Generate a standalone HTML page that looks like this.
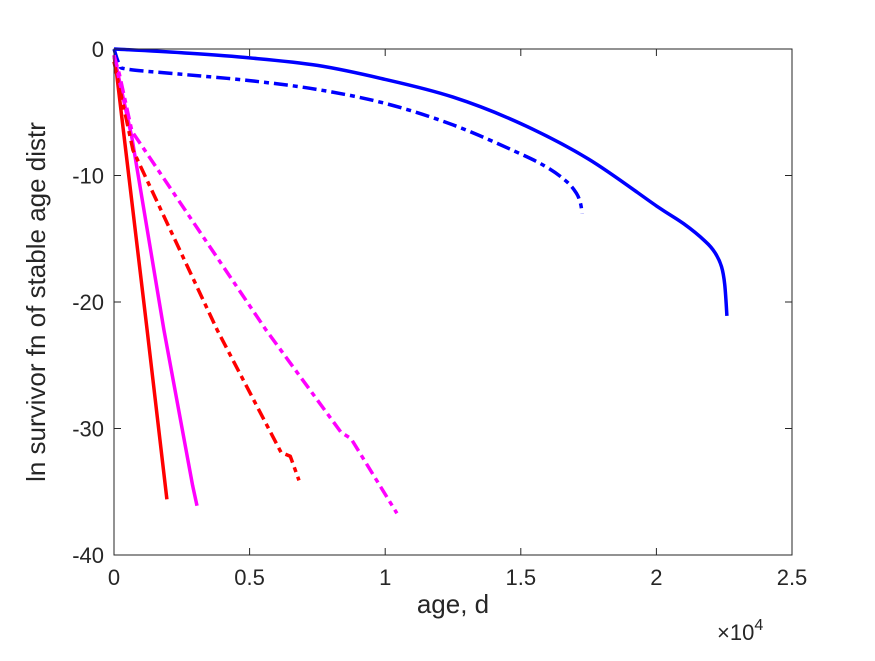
<!DOCTYPE html>
<html><head><meta charset="utf-8"><style>
body{margin:0;background:#fff}
svg text{font-family:"Liberation Sans",sans-serif;fill:#262626}
</style></head><body>
<svg id="chart" width="875" height="656" xmlns="http://www.w3.org/2000/svg">
<rect width="875" height="656" fill="#fff"/>
<g id="plot"></g>
<g id="axes"></g>
<text x="453" y="613" font-size="26" text-anchor="middle">age, d</text>
<text transform="translate(45,302) rotate(-90)" font-size="26" text-anchor="middle">ln survivor fn of stable age distr</text>
<text x="717" y="640" font-size="22">×10<tspan font-size="16" dy="-10">4</tspan></text>
</svg>
<script>
const xTicks=[0,0.5,1,1.5,2,2.5];
const xTickLabels=["0","0.5","1","1.5","2","2.5"];
const yTicks=[0,-10,-20,-30,-40];
const yTickLabels=["0","-10","-20","-30","-40"];
const blueSolidX=[0,0.25,0.5,0.75,1.0,1.25,1.5,1.75,2.0,2.1,2.18,2.216,2.24,2.252,2.26];
const blueSolidY=[0,-0.3,-0.7,-1.3,-2.4,-3.8,-5.9,-8.7,-12.4,-13.8,-15.2,-16.1,-17.2,-18.6,-21.1];
const blueDashX=[0,0.02,0.05,0.25,0.5,0.75,1.0,1.25,1.5,1.6,1.67,1.705,1.72,1.726];
const blueDashY=[0,-1.2,-1.6,-2.0,-2.5,-3.2,-4.3,-6.0,-8.3,-9.4,-10.5,-11.4,-12.2,-13.0];
const redSolidX=[0,0.01,0.122,0.195];
const redSolidY=[-0.5,-2,-22.2,-35.6];
const magSolidX=[0,0.02,0.066,0.184,0.29,0.306];
const magSolidY=[-0.5,-2.5,-7,-22.2,-34.5,-36.1];
const redDashX=[0,0.02,0.07,0.38,0.616,0.65,0.682];
const redDashY=[-1,-3,-8,-22.2,-31.9,-32.2,-34.1];
const magDashX=[0,0.02,0.066,0.56,0.837,0.874,1.043];
const magDashY=[-0.5,-2,-6.5,-22.2,-30.3,-30.8,-36.7];
const L=114,R=792,T=49,B=555;
const sx=v=>L+(v-0)/(2.5-0)*(R-L);
const sy=v=>T+(0-v)/(0-(-40))*(B-T);
const NS="http://www.w3.org/2000/svg";
const plot=document.getElementById('plot'),axes=document.getElementById('axes');
function mk(t,a,p){const e=document.createElementNS(NS,t);for(const k in a)e.setAttribute(k,a[k]);p.appendChild(e);return e;}
function smoothPath(P){
 let d="M"+P[0][0].toFixed(1)+","+P[0][1].toFixed(1);
 for(let i=0;i<P.length-1;i++){
  const p0=P[i-1]||P[i],p1=P[i],p2=P[i+1],p3=P[i+2]||P[i+1];
  const t=1/6;
  const c1=[p1[0]+(p2[0]-p0[0])*t,p1[1]+(p2[1]-p0[1])*t];
  const c2=[p2[0]-(p3[0]-p1[0])*t,p2[1]-(p3[1]-p1[1])*t];
  d+=" C"+c1.map(v=>v.toFixed(1))+" "+c2.map(v=>v.toFixed(1))+" "+p2.map(v=>v.toFixed(1));
 }
 return d;
}
const series=[
 ["blue-solid-line",blueSolidX,blueSolidY,"#0000ff","",true],
 ["blue-dashdot-line",blueDashX,blueDashY,"#0000ff","14 5 5 5",true],
 ["red-solid-line",redSolidX,redSolidY,"#ff0000","",false],
 ["magenta-solid-line",magSolidX,magSolidY,"#ff00ff","",false],
 ["red-dashed-line",redDashX,redDashY,"#ff0000","12 5 5 5",false],
 ["magenta-dashed-line",magDashX,magDashY,"#ff00ff","12 5 5 5",false]];
series.forEach(s=>{
 const P=s[1].map((x,i)=>[sx(x),sy(s[2][i])]);
 let e;
 if(s[5]) e=mk('path',{d:smoothPath(P),fill:"none",stroke:s[3],"stroke-width":3.5,"stroke-linejoin":"round"},plot);
 else e=mk('polyline',{points:P.map(p=>p[0].toFixed(1)+","+p[1].toFixed(1)).join(" "),fill:"none",stroke:s[3],"stroke-width":3.5,"stroke-linejoin":"round"},plot);
 if(s[4])e.setAttribute('stroke-dasharray',s[4]);
 
 
});
const box=mk('rect',{x:L,y:T,width:R-L,height:B-T,fill:"none",stroke:"#262626","stroke-width":1},axes);


xTicks.forEach((v,i)=>{
 mk('line',{x1:sx(v),x2:sx(v),y1:B,y2:B-7,stroke:"#262626"},axes);
 mk('line',{x1:sx(v),x2:sx(v),y1:T,y2:T+7,stroke:"#262626"},axes);
 const t=mk('text',{x:sx(v),y:B+30,"font-size":22,"text-anchor":"middle"},axes);
 t.textContent=xTickLabels[i];
 
 
});
yTicks.forEach((v,i)=>{
 mk('line',{x1:L,x2:L+7,y1:sy(v),y2:sy(v),stroke:"#262626"},axes);
 mk('line',{x1:R,x2:R-7,y1:sy(v),y2:sy(v),stroke:"#262626"},axes);
 const t=mk('text',{x:L-10,y:sy(v)+8,"font-size":22,"text-anchor":"end"},axes);
 t.textContent=yTickLabels[i];
 
 
});
</script>
</body></html>
